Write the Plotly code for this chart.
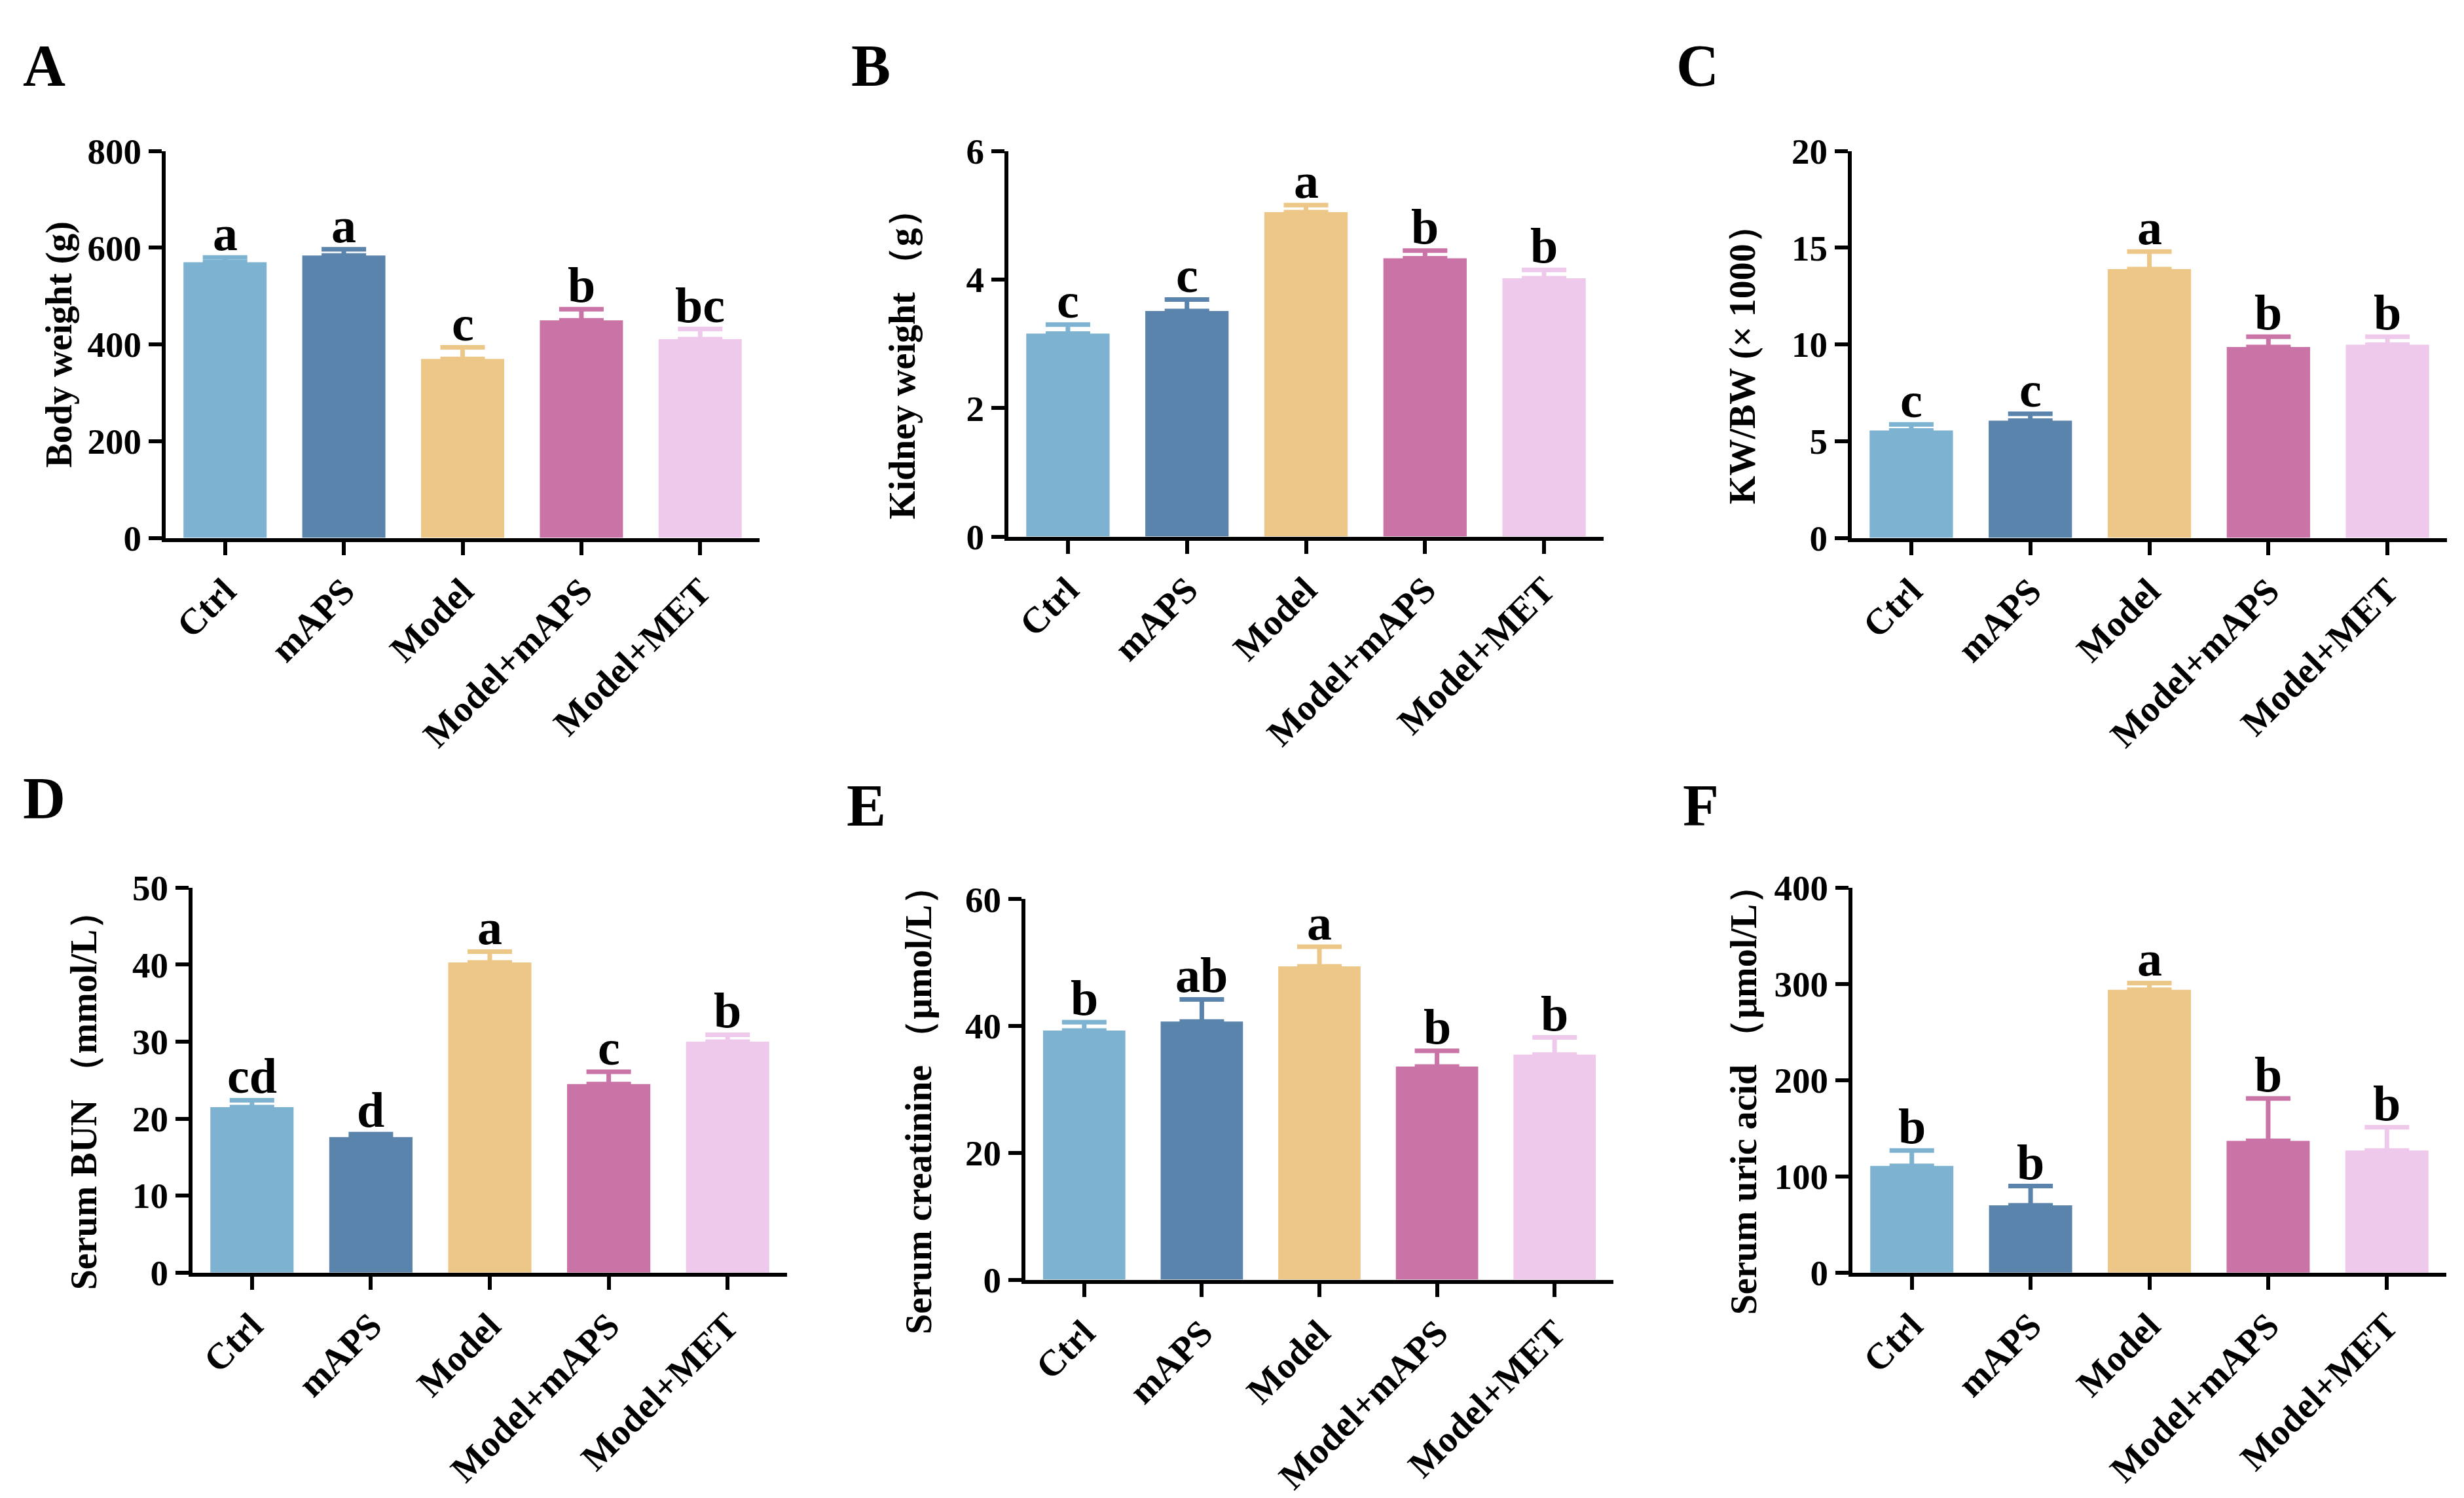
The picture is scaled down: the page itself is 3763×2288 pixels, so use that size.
import plotly.graph_objects as go

# groups and bar colours
groups = ['Ctrl', 'mAPS', 'Model', 'Model+mAPS', 'Model+MET']
colors = ['#7DB3D1', '#5B84AC', '#EDC788', '#C973A6', '#EEC9EC']

# A - body weight
body_weight = [570, 584, 370, 450, 411]
body_weight_sem = [10, 13, 24, 23, 21]
body_weight_sig = ['a', 'a', 'c', 'b', 'bc']

# B - kidney weight
kidney_weight = [3.16, 3.51, 5.05, 4.33, 4.02]
kidney_weight_sem = [0.14, 0.18, 0.11, 0.12, 0.13]
kidney_weight_sig = ['c', 'c', 'a', 'b', 'b']

# C - KW/BW
kw_bw = [5.55, 6.06, 13.9, 9.87, 9.99]
kw_bw_sem = [0.32, 0.36, 0.9, 0.53, 0.41]
kw_bw_sig = ['c', 'c', 'a', 'b', 'b']

# D - serum BUN
bun = [21.5, 17.6, 40.3, 24.5, 30.0]
bun_sem = [0.9, 0.4, 1.4, 1.6, 0.9]
bun_sig = ['cd', 'd', 'a', 'c', 'b']

# E - serum creatinine
creatinine = [39.3, 40.7, 49.4, 33.6, 35.5]
creatinine_sem = [1.3, 3.5, 3.1, 2.5, 2.7]
creatinine_sig = ['b', 'ab', 'a', 'b', 'b']

# F - serum uric acid
uric_acid = [111, 70, 294, 137, 127]
uric_acid_sem = [16, 20, 7, 44, 24]
uric_acid_sig = ['b', 'b', 'a', 'b', 'b']

W, H = 3763, 2288
FONT = 'Liberation Serif'

# label, y title, values, sem, letters, y max, dtick,
# plot box in pixels (left, right, top, bottom), title centre (x, y), label pos (x, y)
panels = [
    ('A', 'Body weight (g)', body_weight, body_weight_sem, body_weight_sig, 800, 200,
     (245, 1152, 198, 805), (83, 502), (25, 11)),
    ('B', 'Kidney weight （g）', kidney_weight, kidney_weight_sem, kidney_weight_sig, 6, 2,
     (1532, 2441, 198, 803), (1370, 519), (1290, 11)),
    ('C', 'KW/BW (× 1000）', kw_bw, kw_bw_sem, kw_bw_sig, 20, 5,
     (2820, 3729, 198, 805), (2653, 519), (2550, 11)),
    ('D', 'Serum BUN （mmol/L）', bun, bun_sem, bun_sig, 50, 10,
     (286, 1194, 1354, 1958), (120, 1674), (25, 1161)),
    ('E', 'Serum creatinine （μmol/L）', creatinine, creatinine_sem, creatinine_sig, 60, 20,
     (1558, 2456, 1372, 1969), (1395, 1689), (1283, 1172)),
    ('F', 'Serum uric acid （μmol/L）', uric_acid, uric_acid_sem, uric_acid_sig, 400, 100,
     (2821, 3728, 1354, 1958), (2655, 1674), (2560, 1172)),
]

fig = go.Figure()
annotations = []

for i, (lab, ytitle, vals, sem, sig, ymax, dtick, box, tpos, lpos) in enumerate(panels, start=1):
    sfx = '' if i == 1 else str(i)
    for g, v, e, c in zip(groups, vals, sem, colors):
        fig.add_trace(go.Bar(
            x=[g], y=[v], width=0.7, marker=dict(color=c, line=dict(width=0)),
            error_y=dict(type='data', array=[e], arrayminus=[0], symmetric=False,
                         color=c, thickness=7, width=34),
            xaxis='x' + sfx, yaxis='y' + sfx, showlegend=False,
        ))
    for g, v, e, s in zip(groups, vals, sem, sig):
        annotations.append(dict(
            x=g, y=v + e, xref='x' + sfx, yref='y' + sfx, text=s, showarrow=False,
            xanchor='center', yanchor='bottom', yshift=-7,
            font=dict(family=FONT, size=76, color='black', weight='bold'),
        ))

    left, right, top, bottom = box
    axis_style = dict(showline=True, linewidth=6, linecolor='black', ticks='outside',
                      ticklen=20, tickwidth=6, tickcolor='black', showgrid=False,
                      zeroline=False)
    fig.layout['xaxis' + sfx] = dict(
        domain=[left / W, right / W], anchor='y' + sfx, type='category',
        categoryorder='array', categoryarray=groups, range=[-0.5, 4.5],
        tickangle=-45, tickfont=dict(family=FONT, size=56, color='black', weight='bold'),
        **axis_style)
    fig.layout['yaxis' + sfx] = dict(
        domain=[1 - bottom / H, 1 - top / H], anchor='x' + sfx, range=[0, ymax],
        dtick=dtick, tickfont=dict(family=FONT, size=55, color='black', weight='bold'),
        **axis_style)

    annotations.append(dict(
        x=tpos[0] / W, y=1 - tpos[1] / H, xref='paper', yref='paper', text=ytitle,
        textangle=-90, showarrow=False, xanchor='center', yanchor='middle',
        font=dict(family=FONT, size=56, color='black', weight='bold'),
    ))
    annotations.append(dict(
        x=lpos[0] / W, y=1 - lpos[1] / H, xref='paper', yref='paper', text=lab,
        showarrow=False, xanchor='left', yanchor='top',
        font=dict(family=FONT, size=90, color='black', weight='bold'),
    ))

fig.update_layout(
    width=W, height=H, margin=dict(l=0, r=0, t=0, b=0),
    barmode='overlay', plot_bgcolor='white', paper_bgcolor='white',
    annotations=annotations,
)

fig.write_html('out.html')
